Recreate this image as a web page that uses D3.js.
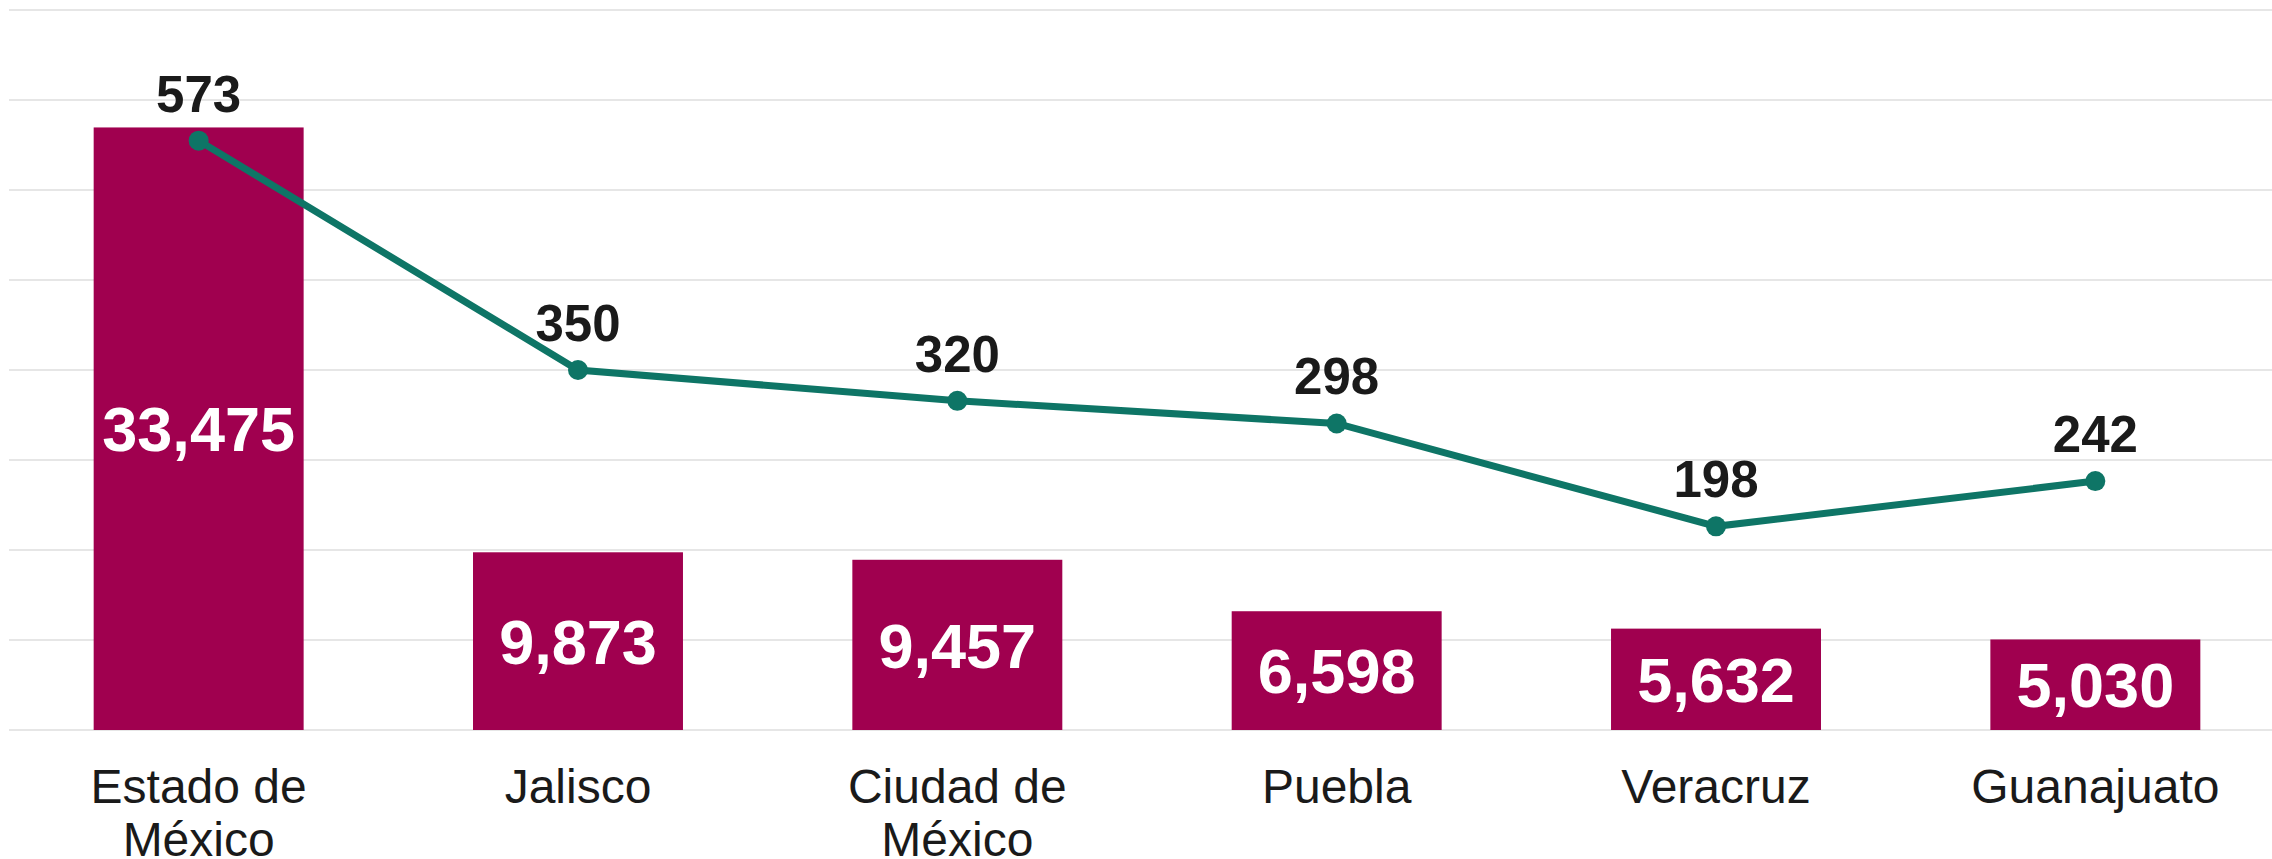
<!DOCTYPE html>
<html>
<head>
<meta charset="utf-8">
<script src="https://cdn.jsdelivr.net/npm/d3@7"></script>
<style>
  body { margin: 0; background: #fff; }
  svg { display: block; font-family: "Liberation Sans", Arial, sans-serif; }
</style>
</head>
<body>
<div id="chart"></div>
<script>
// Data
var estados = ["Estado de México", "Jalisco", "Ciudad de México", "Puebla", "Veracruz", "Guanajuato"];
var barValues = [33475, 9873, 9457, 6598, 5632, 5030];
var lineValues = [573, 350, 320, 298, 198, 242];
var gridTicks = [0, 5000, 10000, 15000, 20000, 25000, 30000, 35000, 40000];

var width = 2272,
    height = 859,
    plotTop = 10,
    baseline = 730;

var barColor = "#A0004F",
    lineColor = "#0E7566";

var data = estados.map(function (d, i) {
    return { name: d, bar: barValues[i], line: lineValues[i] };
});

var svg = d3.select("#chart")
    .append("svg")
    .attr("width", width)
    .attr("height", height);

// Scales
var xScale = d3.scaleBand()
    .domain(estados)
    .range([9, 2285])
    .paddingInner(0.4465)
    .paddingOuter(0.2232);

var yBar = d3.scaleLinear()
    .domain([0, 40000])
    .range([baseline, plotTop]);

var yLine = d3.scaleLinear()
    .domain([0, 700])
    .range([baseline, plotTop]);

// Gridlines
svg.append("g")
    .selectAll("line")
    .data(gridTicks)
    .enter().append("line")
    .attr("x1", 9)
    .attr("x2", width)
    .attr("y1", function (d) { return yBar(d); })
    .attr("y2", function (d) { return yBar(d); })
    .attr("stroke", "#e6e6e6")
    .attr("stroke-width", 2);

// Bars
svg.append("g")
    .selectAll("rect")
    .data(data)
    .enter().append("rect")
    .attr("x", function (d) { return xScale(d.name); })
    .attr("y", function (d) { return yBar(d.bar); })
    .attr("width", xScale.bandwidth())
    .attr("height", function (d) { return baseline - yBar(d.bar); })
    .attr("fill", barColor);

// Bar labels, centred in each bar
svg.append("g")
    .selectAll("text")
    .data(data)
    .enter().append("text")
    .attr("x", function (d) { return xScale(d.name) + xScale.bandwidth() / 2; })
    .attr("y", function (d) { return (yBar(d.bar) + baseline) / 2; })
    .attr("dy", "0.36em")
    .attr("text-anchor", "middle")
    .attr("fill", "#fff")
    .style("font-size", "63px")
    .style("font-weight", "bold")
    .text(function (d) { return d3.format(",")(d.bar); });

// Line
var cx = function (d) { return xScale(d.name) + xScale.bandwidth() / 2; };

var line = d3.line()
    .x(cx)
    .y(function (d) { return yLine(d.line); });

svg.append("path")
    .datum(data)
    .attr("fill", "none")
    .attr("stroke", lineColor)
    .attr("stroke-width", 7)
    .attr("d", line);

svg.append("g")
    .selectAll("circle")
    .data(data)
    .enter().append("circle")
    .attr("cx", cx)
    .attr("cy", function (d) { return yLine(d.line); })
    .attr("r", 10)
    .attr("fill", lineColor);

svg.append("g")
    .selectAll("text")
    .data(data)
    .enter().append("text")
    .attr("x", cx)
    .attr("y", function (d) { return yLine(d.line) - 29; })
    .attr("text-anchor", "middle")
    .attr("fill", "#1a1a1a")
    .style("font-size", "51px")
    .style("font-weight", "bold")
    .text(function (d) { return d.line; });

// Category axis
var xAxis = svg.append("g")
    .attr("transform", "translate(0," + baseline + ")")
    .call(d3.axisBottom(xScale).tickSize(0).tickPadding(39));

xAxis.select(".domain").remove();
xAxis.selectAll("text")
    .attr("fill", "#1a1a1a")
    .style("font-size", "48px")
    .style("font-family", "'Liberation Sans', Arial, sans-serif")
    .call(wrap, 300);

function wrap(texts, maxWidth) {
    texts.each(function () {
        var text = d3.select(this),
            words = text.text().split(/\s+/),
            y = text.attr("y"),
            dy = parseFloat(text.attr("dy")),
            lineNo = 0,
            current = [],
            tspan = text.text(null).append("tspan").attr("x", 0).attr("y", y).attr("dy", dy + "em");
        words.forEach(function (w) {
            current.push(w);
            tspan.text(current.join(" "));
            if (tspan.node().getComputedTextLength() > maxWidth && current.length > 1) {
                current.pop();
                tspan.text(current.join(" "));
                current = [w];
                lineNo++;
                tspan = text.append("tspan").attr("x", 0).attr("y", y)
                    .attr("dy", (lineNo * 1.1 + dy) + "em").text(w);
            }
        });
    });
}
</script>
</body>
</html>
